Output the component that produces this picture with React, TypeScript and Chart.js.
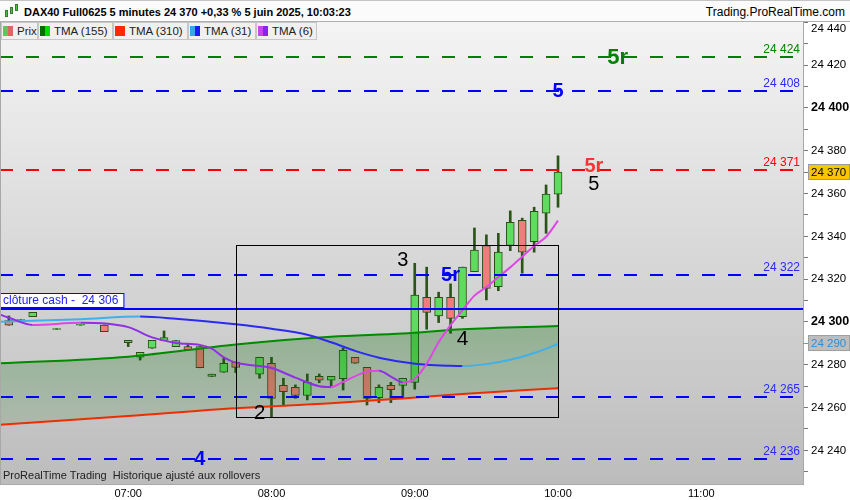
import React, { useEffect, useRef } from "react";
import { Chart, registerables } from "chart.js";

Chart.register(...registerables);

// ---------------- data ----------------
const candleTimes = ["06:10","06:15","06:20","06:30","06:40","06:50","07:00","07:05","07:10","07:15","07:20","07:25","07:30","07:35","07:40","07:45","07:55","08:00","08:05","08:10","08:15","08:20","08:25","08:30","08:35","08:40","08:45","08:50","08:55","09:00","09:05","09:10","09:15","09:20","09:25","09:30","09:35","09:40","09:45","09:50","09:55","10:00"];
const candleOpen = [24300.6,24300.7,24302.5,24296.5,24298.5,24298.6,24291.4,24283.5,24287.7,24291.4,24288.5,24288.5,24288.5,24274.5,24276.5,24281.3,24275.6,24280.7,24270.4,24269.5,24265.7,24274.6,24272.8,24273.5,24283.5,24278.8,24264.6,24270.4,24270.3,24271.8,24311.5,24302.8,24311.5,24302.5,24323.5,24335.7,24316.5,24335.7,24347.5,24337.5,24350.8,24359.7];
const candleHigh = [24302.8,24301.1,24304.5,24296.9,24298.9,24298.6,24291.4,24285.8,24291.4,24295.8,24291.3,24289.7,24288.5,24275.6,24283.0,24281.3,24283.5,24283.5,24273.7,24270.6,24275.7,24275.7,24274.6,24287.9,24283.5,24278.8,24270.6,24271.8,24273.7,24327.4,24325.6,24313.9,24317.8,24325.6,24343.9,24340.7,24341.4,24351.9,24348.5,24353.6,24364.0,24377.6];
const candleLow = [24298.5,24300.7,24302.5,24296.5,24298.5,24295.5,24288.5,24282.2,24287.7,24291.4,24288.5,24286.9,24278.6,24274.5,24276.5,24276.3,24273.7,24255.7,24261.2,24264.3,24263.6,24271.6,24269.8,24268.2,24280.7,24261.2,24262.3,24262.3,24264.5,24268.6,24296.6,24299.7,24294.7,24301.7,24323.5,24310.3,24314.6,24333.3,24322.8,24332.6,24341.4,24353.6];
const candleClose = [24298.5,24301.1,24304.5,24296.9,24298.9,24295.5,24290.3,24285.8,24291.4,24292.7,24291.3,24286.9,24278.6,24275.6,24280.7,24278.8,24283.5,24264.3,24267.4,24265.7,24271.8,24272.8,24274.6,24286.8,24280.7,24264.3,24269.5,24268.4,24273.7,24312.5,24304.5,24311.5,24301.7,24325.6,24333.6,24315.7,24332.6,24346.6,24332.6,24351.7,24359.7,24370.0];

const tmaLongTimes = ["06:05","07:00","07:45","08:25","08:55","09:20","10:00"];
const tma155Values = [24280.6,24283.8,24289.5,24293.1,24294.6,24296.6,24298.1];
const tma310Values = [24251.9,24256.1,24259.7,24262.0,24264.3,24266.4,24269.0];

const tma31Times = ["06:05","06:40","07:05","07:20","07:45","08:00","08:15","08:25","08:35","08:45","08:55","09:05","09:15","09:20","09:30","09:40","09:50","10:00"];
const tma31Values = [24300.1,24301.3,24302.5,24301.5,24298.9,24296.8,24294.0,24290.5,24286.5,24283.3,24281.3,24280.0,24279.5,24279.4,24280.3,24282.3,24285.5,24289.7];

const tma6Times = ["06:05","06:10","06:20","06:40","07:00","07:10","07:20","07:30","07:35","07:40","07:45","07:50","08:00","08:10","08:20","08:25","08:30","08:40","08:45","08:50","08:55","09:00","09:05","09:10","09:15","09:20","09:25","09:30","09:35","09:40","09:45","09:50","09:55","10:00"];
const tma6Values = [24304.0,24302.0,24298.6,24299.6,24297.6,24292.8,24290.2,24289.3,24287.5,24283.5,24281.0,24280.0,24278.5,24274.0,24270.0,24269.6,24272.0,24276.8,24277.2,24274.5,24271.8,24273.5,24280.5,24290.5,24298.5,24305.5,24312.3,24316.3,24321.0,24325.5,24330.5,24335.5,24339.8,24347.3];

const levelValues = [24424, 24408, 24371, 24322, 24265, 24236];
const closeCashValue = 24306;
const closeCashText = "clôture cash -  24 306";
const lastPrice = 24370;
const tma31Last = 24290;

const boxTimes = ["07:45", "10:00"];
const boxValues = [24255.5, 24335.8];

const noteTexts = ["5r", "5", "5r", "5", "3", "5r", "4", "2", "4"];
const noteTimes = ["10:25", "10:00", "10:15", "10:15", "08:55", "09:15", "09:20", "07:55", "07:30"];
const noteValues = [24424, 24408, 24373, 24364.5, 24329, 24322.4, 24292.5, 24258, 24236];

const xTickLabels = ["07:00", "08:00", "09:00", "10:00", "11:00"];
const yTickValues = [24230,24240,24250,24260,24270,24280,24290,24300,24310,24320,24330,24340,24350,24360,24370,24380,24390,24400,24410,24420,24430,24440];
const yTopLabel = 24440;

const titleText = "DAX40 Full0625 5 minutes 24 370 +0,33 % 5 juin 2025, 10:03:23";
const siteText = "Trading.ProRealTime.com";
const footerText = "ProRealTime Trading  Historique ajusté aux rollovers";
const legendNames = ["Prix", "TMA (155)", "TMA (310)", "TMA (31)", "TMA (6)"];

// ---------------- styles ----------------
const FONT = '"Liberation Sans", Arial, sans-serif';
const X_MIN = 366.3;
const X_MAX = 702.6;
const Y_MIN = 24224.3;
const Y_MAX = 24440.6;
const LEVEL_COLORS = ["#008000", "#0000ff", "#ff0000", "#0000ff", "#0000ff", "#0000ff"];
const LEVEL_TEXT_COLORS = ["#008000", "#2a2aff", "#ff0000", "#2a2aff", "#2a2aff", "#2a2aff"];
const NOTE_STYLES = [
  { color: "#008000", font: `bold 22px ${FONT}` },
  { color: "#0000ff", font: `bold 20px ${FONT}` },
  { color: "#ff3333", font: `bold 20px ${FONT}` },
  { color: "#000000", font: `20px ${FONT}` },
  { color: "#000000", font: `20px ${FONT}` },
  { color: "#0000ff", font: `bold 20px ${FONT}` },
  { color: "#000000", font: `21px ${FONT}` },
  { color: "#000000", font: `21px ${FONT}` },
  { color: "#0000ff", font: `bold 20px ${FONT}` },
];
const LEGEND_BOXES = [
  { left: 1, width: 37, sw: ["#5cc85c", "#e06464"] },
  { left: 38, width: 75, sw: ["#006e00", "#00dc00"] },
  { left: 113, width: 75, sw: ["#ff2a00", "#ff2a00"] },
  { left: 188, width: 68, sw: ["#30a8ec", "#1a1aff"] },
  { left: 256, width: 61, sw: ["#cc44f0", "#8a22f0"] },
];

const toMin = (s: string) => {
  const [h, m] = s.split(":").map(Number);
  return h * 60 + m;
};
const fmt = (v: number) => String(Math.round(v)).replace(/(\d+)(\d{3})$/, "$1 $2");

const overlayPlugin = {
  id: "overlay",
  beforeDraw(chart: any) {
    const { ctx, chartArea: a } = chart;
    ctx.save();
    const g = ctx.createLinearGradient(0, a.top, 0, a.bottom);
    g.addColorStop(0, "#f4f4f4");
    g.addColorStop(1, "#bcbcbc");
    ctx.fillStyle = g;
    ctx.fillRect(a.left, a.top, a.right - a.left, a.bottom - a.top);
    ctx.restore();
  },
  afterDatasetsDraw(chart: any) {
    const { ctx, chartArea: a, scales } = chart;
    const x = scales.x;
    const y = scales.y;
    ctx.save();
    ctx.beginPath();
    ctx.rect(a.left, a.top, a.right - a.left, a.bottom - a.top);
    ctx.clip();

    levelValues.forEach((v, i) => {
      const py = Math.round(y.getPixelForValue(v));
      ctx.strokeStyle = LEVEL_COLORS[i];
      ctx.lineWidth = 2;
      ctx.setLineDash([13, 13]);
      ctx.beginPath();
      ctx.moveTo(a.left, py);
      ctx.lineTo(a.right, py);
      ctx.stroke();
      ctx.setLineDash([]);
      ctx.font = `12px ${FONT}`;
      ctx.fillStyle = LEVEL_TEXT_COLORS[i];
      ctx.textAlign = "right";
      ctx.textBaseline = "bottom";
      ctx.fillText(fmt(v), a.right - 3, py - 1);
    });

    const cy = Math.round(y.getPixelForValue(closeCashValue));
    ctx.strokeStyle = "#0000ff";
    ctx.lineWidth = 2;
    ctx.beginPath();
    ctx.moveTo(a.left, cy);
    ctx.lineTo(a.right, cy);
    ctx.stroke();
    ctx.font = `12px ${FONT}`;
    const tw = ctx.measureText(closeCashText).width;
    ctx.fillStyle = "#ffffff";
    ctx.fillRect(a.left + 0.5, cy - 15.5, tw + 8, 14);
    ctx.strokeStyle = "#0000ff";
    ctx.lineWidth = 1;
    ctx.strokeRect(a.left + 0.5, cy - 15.5, tw + 8, 14);
    ctx.fillStyle = "#2020ff";
    ctx.textAlign = "left";
    ctx.textBaseline = "middle";
    ctx.fillText(closeCashText, a.left + 3, cy - 8);

    const bx0 = Math.round(x.getPixelForValue(toMin(boxTimes[0]))) + 0.5;
    const bx1 = Math.round(x.getPixelForValue(toMin(boxTimes[1]))) + 0.5;
    const by0 = Math.round(y.getPixelForValue(boxValues[1])) + 0.5;
    const by1 = Math.round(y.getPixelForValue(boxValues[0])) + 0.5;
    ctx.strokeStyle = "#000000";
    ctx.lineWidth = 1;
    ctx.strokeRect(bx0, by0, bx1 - bx0, by1 - by0);

    noteTexts.forEach((t, i) => {
      const st = NOTE_STYLES[i];
      ctx.font = st.font;
      ctx.fillStyle = st.color;
      ctx.textAlign = "center";
      ctx.textBaseline = "middle";
      ctx.fillText(t, x.getPixelForValue(toMin(noteTimes[i])), y.getPixelForValue(noteValues[i]) + 1);
    });

    ctx.font = `11px ${FONT}`;
    ctx.fillStyle = "#222222";
    ctx.textAlign = "left";
    ctx.textBaseline = "middle";
    ctx.fillText(footerText, a.left + 3, a.bottom - 8);
    ctx.restore();

    ctx.save();
    ctx.strokeStyle = "#a8a8a8";
    ctx.lineWidth = 1;
    ctx.beginPath();
    ctx.moveTo(a.left + 0.5, a.top);
    ctx.lineTo(a.left + 0.5, a.bottom);
    ctx.stroke();
    ctx.restore();
  },
  afterDraw(chart: any) {
    const { ctx, chartArea: a, scales } = chart;
    const y = scales.y;
    ctx.save();
    ctx.font = `11.5px ${FONT}`;
    ctx.textAlign = "left";
    ctx.textBaseline = "middle";
    // top tick label, pushed below the header like the reference
    ctx.fillStyle = "#000000";
    ctx.fillText(fmt(yTopLabel), a.right + 8, Math.max(y.getPixelForValue(yTopLabel), a.top) + 7);
    let py = Math.round(y.getPixelForValue(lastPrice));
    ctx.fillStyle = "#f7c600";
    ctx.fillRect(a.right + 5.5, py - 7.5, 41, 15);
    ctx.strokeStyle = "#9a9a9a";
    ctx.lineWidth = 1;
    ctx.strokeRect(a.right + 5.5, py - 7.5, 41, 15);
    ctx.fillStyle = "#000000";
    ctx.fillText(fmt(lastPrice), a.right + 8, py + 0.5);
    py = Math.round(y.getPixelForValue(tma31Last));
    ctx.fillStyle = "#bdbdbd";
    ctx.fillRect(a.right + 5.5, py - 7.5, 41, 15);
    ctx.strokeStyle = "#a0a0a0";
    ctx.strokeRect(a.right + 5.5, py - 7.5, 41, 15);
    ctx.fillStyle = "#2d8fd5";
    ctx.fillText(fmt(tma31Last), a.right + 8, py + 0.5);
    ctx.strokeStyle = "#40a8e8";
    ctx.beginPath();
    ctx.moveTo(a.right, py + 0.5);
    ctx.lineTo(a.right + 5, py + 0.5);
    ctx.stroke();
    ctx.restore();
  },
};

export default function App() {
  const ref = useRef<HTMLCanvasElement | null>(null);

  useEffect(() => {
    if (!ref.current) return;
    Chart.defaults.font.family = FONT;
    const cx = candleTimes.map(toMin);
    const up = candleClose.map((c, i) => c >= candleOpen[i]);

    const chart = new Chart(ref.current, {
      type: "bar",
      data: {
        datasets: [
          {
            type: "line",
            label: "TMA6",
            data: tma6Times.map((t, i) => ({ x: toMin(t), y: tma6Values[i] })),
            borderColor: "#d848e8",
            segment: {
              borderColor: (c: any) => (c.p1.parsed.y >= c.p0.parsed.y ? "#df46e6" : "#9030e6"),
            },
            borderWidth: 2,
            pointRadius: 0,
            cubicInterpolationMode: "monotone",
            fill: false,
            order: 0,
          } as any,
          {
            type: "line",
            label: "TMA31",
            data: tma31Times.map((t, i) => ({ x: toMin(t), y: tma31Values[i] })),
            borderColor: "#2a2af0",
            segment: {
              borderColor: (c: any) => (c.p1.parsed.y >= c.p0.parsed.y ? "#40b0ea" : "#2a2af0"),
            },
            borderWidth: 2,
            pointRadius: 0,
            cubicInterpolationMode: "monotone",
            fill: false,
            order: 1,
          } as any,
          {
            type: "line",
            label: "TMA155",
            data: tmaLongTimes.map((t, i) => ({ x: toMin(t), y: tma155Values[i] })),
            borderColor: "#008a00",
            borderWidth: 2,
            pointRadius: 0,
            cubicInterpolationMode: "monotone",
            fill: { target: 3 },
            backgroundColor: (c: any) => {
              const ch = c.chart;
              if (!ch.chartArea) return "rgba(0,105,0,0.2)";
              const ys = ch.scales.y;
              const g = ch.ctx.createLinearGradient(0, ys.getPixelForValue(24300), 0, ys.getPixelForValue(24250));
              g.addColorStop(0, "rgba(0,105,0,0.30)");
              g.addColorStop(1, "rgba(0,105,0,0.11)");
              return g;
            },
            order: 1,
          } as any,
          {
            type: "line",
            label: "TMA310",
            data: tmaLongTimes.map((t, i) => ({ x: toMin(t), y: tma310Values[i] })),
            borderColor: "#ff2a00",
            borderWidth: 2,
            pointRadius: 0,
            cubicInterpolationMode: "monotone",
            fill: false,
            order: 1,
          } as any,
          {
            type: "bar",
            label: "bodies",
            data: cx.map((x, i) => ({ x, y: [candleOpen[i], candleClose[i]] })),
            backgroundColor: up.map((u) => (u ? "#5fdc5f" : "#f07c7c")),
            borderColor: "#2b4d18",
            borderWidth: 1,
            borderSkipped: false,
            barThickness: 8,
            grouped: false,
            order: 2,
          } as any,
          {
            type: "bar",
            label: "wicks",
            data: cx.map((x, i) => ({ x, y: [candleLow[i], candleHigh[i]] })),
            backgroundColor: "#2b5518",
            borderWidth: 0,
            barThickness: 2,
            grouped: false,
            order: 3,
          } as any,
        ],
      },
      options: {
        responsive: false,
        animation: false,
        events: [],
        layout: { padding: { top: 21, left: 0, right: 0, bottom: 0 } },
        plugins: { legend: { display: false }, tooltip: { enabled: false } },
        scales: {
          x: {
            type: "linear",
            min: X_MIN,
            max: X_MAX,
            offset: false,
            afterBuildTicks: (s: any) => {
              s.ticks = xTickLabels.map((l) => ({ value: toMin(l) }));
            },
            afterFit: (s: any) => {
              s.height = 16;
            },
            grid: { display: false, drawTicks: false },
            border: { display: true, color: "#a8a8a8" },
            ticks: {
              autoSkip: false,
              maxRotation: 0,
              padding: 3,
              color: "#000",
              font: { size: 11 },
              callback: (_v: any, i: number) => xTickLabels[i],
            },
          },
          y: {
            type: "linear",
            position: "right",
            min: Y_MIN,
            max: Y_MAX,
            afterBuildTicks: (s: any) => {
              s.ticks = yTickValues.map((v) => ({ value: v }));
            },
            afterFit: (s: any) => {
              s.width = 47;
            },
            grid: { display: true, drawOnChartArea: false, drawTicks: true, tickLength: 5, color: "#777" },
            border: { display: true, color: "#a8a8a8" },
            ticks: {
              autoSkip: false,
              padding: 3,
              color: "#000",
              font: (c: any) =>
                c.tick && c.tick.value % 100 === 0 ? { size: 12.5, weight: "bold" } : { size: 11.5 },
              callback: (v: any) => {
                const n = Number(v);
                if (n === yTopLabel) return "";
                return n % 20 === 0 ? fmt(n) : "";
              },
            },
          },
        },
      } as any,
      plugins: [overlayPlugin],
    });
    return () => chart.destroy();
  }, []);

  return (
    <div style={{ position: "fixed", left: 0, top: 0, width: 850, height: 500, background: "#fff", overflow: "hidden", fontFamily: FONT }}>
      <canvas ref={ref} width={850} height={500} style={{ position: "absolute", left: 0, top: 0, width: 850, height: 500 }} />
      <div
        style={{
          position: "absolute", left: 0, top: 0, width: 850, height: 22, boxSizing: "border-box",
          borderTop: "1px solid #c4c4c4", borderBottom: "1px solid #b0b0b0", background: "#fbfbfb",
        }}
      >
        <div style={{ position: "absolute", left: 5, top: 9, width: 3, height: 7, background: "#4cc04c", border: "1px solid #3a7a2a", boxSizing: "border-box" }} />
        <div style={{ position: "absolute", left: 10, top: 6, width: 3, height: 7, background: "#4cc04c", border: "1px solid #3a7a2a", boxSizing: "border-box" }} />
        <div style={{ position: "absolute", left: 15, top: 3, width: 3, height: 7, background: "#4cc04c", border: "1px solid #3a7a2a", boxSizing: "border-box" }} />
        <div style={{ position: "absolute", left: 24, top: 4, fontSize: 11, fontWeight: "bold", color: "#000", lineHeight: "15px", whiteSpace: "nowrap" }}>{titleText}</div>
        <div style={{ position: "absolute", right: 5, top: 4, fontSize: 12, color: "#000", lineHeight: "15px", whiteSpace: "nowrap" }}>{siteText}</div>
      </div>
      {legendNames.map((name, i) => {
        const b = LEGEND_BOXES[i];
        return (
          <div
            key={name}
            style={{
              position: "absolute", left: b.left, top: 22, width: b.width, height: 18, boxSizing: "border-box",
              background: "#f0f0f0", border: "1px solid #c6c6c6", display: "flex", alignItems: "center",
            }}
          >
            <div style={{ width: 5, height: 10, marginLeft: 1, background: b.sw[0] }} />
            <div style={{ width: 5, height: 10, background: b.sw[1] }} />
            <span style={{ marginLeft: 4, fontSize: 11.5, color: "#222", whiteSpace: "nowrap" }}>{name}</span>
          </div>
        );
      })}
    </div>
  );
}
